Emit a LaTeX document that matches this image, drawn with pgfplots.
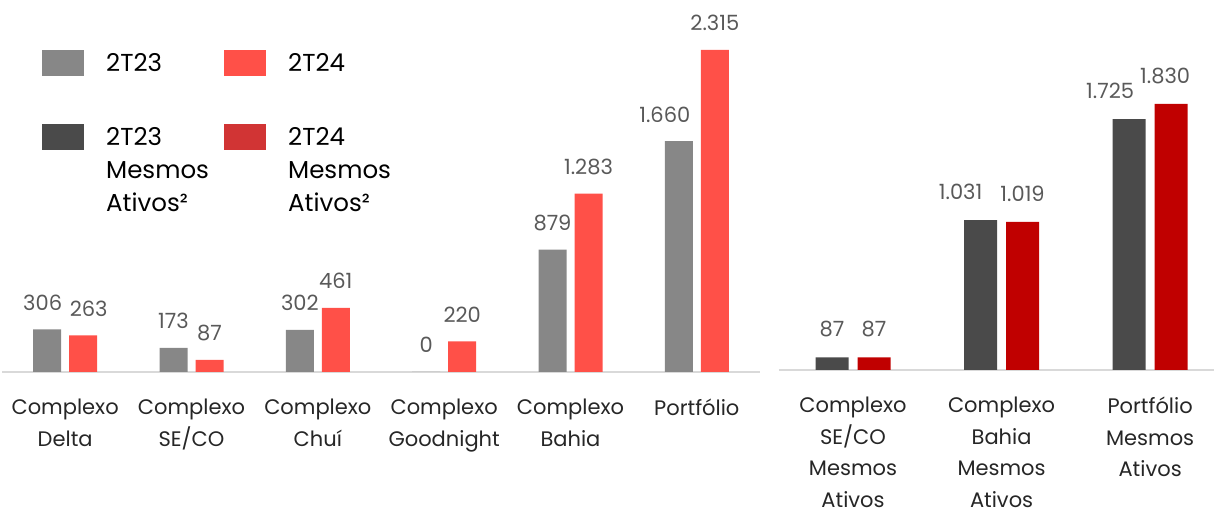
\documentclass[border=0pt]{standalone}
\usepackage{pgfplots}
\pgfplotsset{compat=1.18}
\usepackage{pgfplotstable}
\usepackage{fontspec}
\setmainfont{Poppins}
\definecolor{cgray}{HTML}{878787}
\definecolor{cred}{HTML}{FF5048}
\definecolor{cdark}{HTML}{4A4A4A}
\definecolor{cdred}{HTML}{C00000}
\definecolor{legdred}{HTML}{D13434}
\definecolor{labc}{HTML}{595959}
\definecolor{tickc}{HTML}{262626}
\definecolor{axl}{HTML}{D9D9D9}

\pgfplotstableread{
x y lab dx
0 306 306 -4.5
1 173 173 0
2 302 302 0
3 0 0 0
4 879 879 0
5 1660 1.660 -14
}\leftA
\pgfplotstableread{
x y lab dx
0 263 263 5.5
1 87 87 0
2 461 461 0
3 220 220 0
4 1283 1.283 0
5 2315 2.315 0
}\leftB
\pgfplotstableread{
x y lab dx
0 87 87 0
1 1031 1.031 -20
2 1725 1.725 -19
}\rightA
\pgfplotstableread{
x y lab dx
0 87 87 0
1 1019 1.019 0
2 1830 1.830 -6
}\rightB

\pgfplotsset{
 legA/.style={legend image code/.code={\fill[##1] (0pt,-13pt) rectangle (42pt,13pt);}},
 mybars/.style={
  scale only axis, clip=false, ybar, ymin=0,
  axis x line*=bottom, hide y axis,
  axis line style={draw=axl, line width=1.6pt, -},
  major tick length=0pt, xtick style={draw=none},
  xticklabel style={font=\fontsize{21}{31.5}\selectfont, color=tickc, align=center, anchor=north, inner sep=0pt, yshift=-27pt},
  nodes near coords, point meta=explicit symbolic,
  visualization depends on={\thisrow{dx} \as \dx},
  every node near coord/.append style={font=\fontsize{21}{25}\selectfont, color=labc, anchor=base, inner sep=0pt, xshift=\dx pt},
 },
}

\begin{document}
\begin{tikzpicture}
\useasboundingbox (0pt,0pt) rectangle (1214pt,508pt);
\begin{axis}[mybars,
  at={(2pt,136pt)}, anchor=south west,
  width=758pt, height=372pt,
  xmin=-0.5, xmax=5.5, ymax=2674.5,
  bar width=28pt, ybar=8pt,
  every node near coord/.append style={yshift=19pt},
  xtick={0,1,2,3,4,5},
  xticklabels={{Complexo\\Delta},{Complexo\\SE/CO},{Complexo\\Chuí},{Complexo\\Goodnight},{Complexo\\Bahia},{Portfólio}},
  legend columns=2,
  legend cell align=left,
  legend style={at={(axis description cs:0.05277,0.8656)}, anchor=north west, draw=none, fill=none, inner sep=0pt, column sep=0pt, row sep=48pt,
    nodes={inner sep=0pt, text width=110pt, align=left, font=\fontsize{24.5}{33}\selectfont, text=black},
    /tikz/every odd column/.append style={column sep=22pt},
    /tikz/every even column/.append style={column sep=8pt}},
]
\addplot[fill=cgray, draw=none, legA] table[x=x,y=y,meta=lab] {\leftA};
\addlegendentry{2T23}
\addplot[fill=cred, draw=none, legA] table[x=x,y=y,meta=lab] {\leftB};
\addlegendentry{2T24}
\addlegendimage{fill=cdark, draw=none, legA}
\addlegendentry{2T23\\Mesmos\\Ativos²}
\addlegendimage{fill=legdred, draw=none, legA}
\addlegendentry{2T24\\Mesmos\\Ativos²}
\end{axis}
\begin{axis}[mybars,
  at={(778.75pt,138pt)}, anchor=south west,
  width=435.25pt, height=370pt,
  xmin=-0.5, xmax=2.43, ymax=2545,
  bar width=33pt, ybar=9pt,
  every node near coord/.append style={yshift=20.5pt},
  xtick={0,1,2},
  xticklabels={{Complexo\\SE/CO\\Mesmos\\Ativos},{Complexo\\Bahia\\Mesmos\\Ativos},{Portfólio\\Mesmos\\Ativos}},
]
\addplot[fill=cdark, draw=none] table[x=x,y=y,meta=lab] {\rightA};
\addplot[fill=cdred, draw=none] table[x=x,y=y,meta=lab] {\rightB};
\end{axis}
\end{tikzpicture}
\end{document}
